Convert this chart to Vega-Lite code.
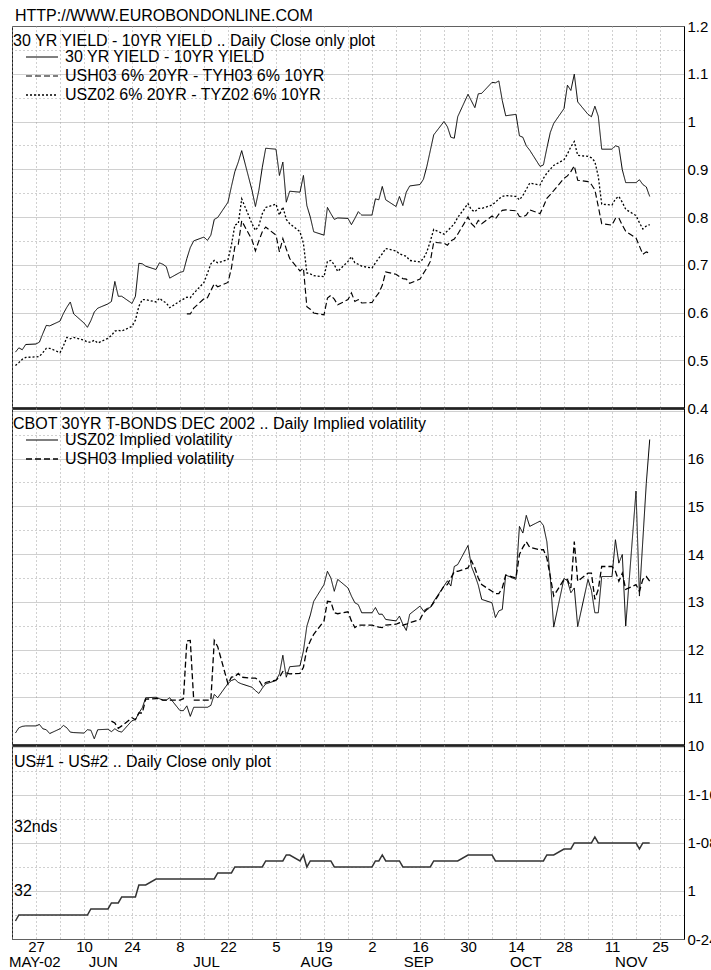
{
  "$schema": "https://vega.github.io/schema/vega-lite/v6.json",
  "padding": {"left": 7, "top": 7, "right": 0, "bottom": 0},
  "title": {"text": "HTTP://WWW.EUROBONDONLINE.COM", "anchor": "start", "frame": "group", "fontSize": 16, "fontWeight": "normal", "font": "Liberation Sans", "color": "black", "offset": -5, "dx": 3},
  "spacing": 0,
  "bounds": "flush",
  "resolve": {"scale": {"strokeDash": "independent", "strokeWidth": "independent"}, "legend": {"strokeDash": "independent", "strokeWidth": "independent"}},
  "config": {
    "font": "Liberation Sans",
    "view": {"stroke": "#222222", "strokeWidth": 1},
    "axis": {"labelFontSize": 15, "labelColor": "black", "labelFont": "Liberation Sans", "ticks": false, "gridColor": "#a0a0a0", "gridWidth": 1, "domainColor": "black", "labelOverlap": false},
    "legend": {"titleFontSize": 16, "titleFontWeight": "normal", "titleColor": "black", "titleFont": "Liberation Sans", "labelFontSize": 16, "labelColor": "black", "labelFont": "Liberation Sans", "symbolSize": 1024, "symbolStrokeWidth": 1.3, "symbolStrokeColor": "black", "symbolType": "stroke", "symbolOffset": 12, "labelOffset": 6, "clipHeight": 16, "rowPadding": 3, "titlePadding": 0, "padding": 0, "titleLimit": 700, "labelLimit": 700},
    "line": {"color": "black"},
    "text": {"font": "Liberation Sans", "fontSize": 16, "color": "black"}
  },
  "datasets": {
    "main": [
      {"d":"2002-05-21","yld":0.517,"usz":0.489,"sz":10.25,"sp":27},
      {"d":"2002-05-22","yld":0.526,"usz":0.495,"sz":10.36,"sp":28},
      {"d":"2002-05-23","yld":0.522,"usz":0.502,"sz":10.39,"sp":28},
      {"d":"2002-05-24","yld":0.533,"usz":0.506,"sz":10.40,"sp":28},
      {"d":"2002-05-27","yld":0.534,"usz":0.507,"sz":10.40,"sp":28},
      {"d":"2002-05-28","yld":0.538,"usz":0.508,"sz":10.43,"sp":28},
      {"d":"2002-05-29","yld":0.556,"usz":0.516,"sz":10.34,"sp":28},
      {"d":"2002-05-30","yld":0.573,"usz":0.525,"sz":10.32,"sp":28},
      {"d":"2002-05-31","yld":0.572,"usz":0.525,"sz":10.24,"sp":28},
      {"d":"2002-06-03","yld":0.582,"usz":0.516,"sz":10.34,"sp":28},
      {"d":"2002-06-04","yld":0.598,"usz":0.530,"sz":10.41,"sp":28},
      {"d":"2002-06-05","yld":0.611,"usz":0.548,"sz":10.36,"sp":28},
      {"d":"2002-06-06","yld":0.622,"usz":0.545,"sz":10.27,"sp":28},
      {"d":"2002-06-07","yld":0.597,"usz":0.548,"sz":10.26,"sp":28},
      {"d":"2002-06-10","yld":0.578,"usz":0.542,"sz":10.25,"sp":28},
      {"d":"2002-06-11","yld":0.569,"usz":0.538,"sz":10.32,"sp":28},
      {"d":"2002-06-12","yld":0.583,"usz":0.538,"sz":10.31,"sp":29},
      {"d":"2002-06-13","yld":0.601,"usz":0.542,"sz":10.13,"sp":29},
      {"d":"2002-06-14","yld":0.609,"usz":0.536,"sz":10.32,"sp":29},
      {"d":"2002-06-17","yld":0.618,"usz":0.546,"sz":10.33,"sp":29},
      {"d":"2002-06-18","yld":0.623,"usz":0.552,"sz":10.28,"sh":10.50,"sp":30},
      {"d":"2002-06-19","yld":0.665,"usz":0.561,"sz":10.34,"sh":10.46,"sp":30},
      {"d":"2002-06-20","yld":0.634,"usz":0.563,"sz":10.29,"sh":10.35,"sp":30},
      {"d":"2002-06-21","yld":0.634,"usz":0.561,"sz":10.27,"sh":10.40,"sp":31},
      {"d":"2002-06-24","yld":0.619,"usz":0.571,"sz":10.51,"sh":10.57,"sp":31},
      {"d":"2002-06-25","yld":0.634,"usz":0.584,"sz":10.53,"sh":10.53,"sp":31},
      {"d":"2002-06-26","yld":0.703,"usz":0.613,"sz":10.67,"sh":10.67,"sp":33},
      {"d":"2002-06-27","yld":0.702,"usz":0.627,"sz":10.78,"sh":10.67,"sp":33},
      {"d":"2002-06-28","yld":0.697,"usz":0.627,"sz":10.99,"sh":10.96,"sp":33},
      {"d":"2002-07-01","yld":0.690,"usz":0.622,"sz":11.00,"sh":10.97,"sp":34},
      {"d":"2002-07-02","yld":0.704,"usz":0.630,"sz":10.97,"sh":10.97,"sp":34},
      {"d":"2002-07-03","yld":0.701,"usz":0.624,"sz":10.94,"sh":10.94,"sp":34},
      {"d":"2002-07-04","yld":0.696,"usz":0.620,"sz":10.94,"sh":10.94,"sp":34},
      {"d":"2002-07-05","yld":0.672,"usz":0.610,"sz":10.99,"sh":10.94,"sp":34},
      {"d":"2002-07-08","yld":0.684,"usz":0.624,"sz":10.72,"sh":10.94,"sp":34},
      {"d":"2002-07-09","yld":0.686,"usz":0.628,"sz":10.72,"sh":10.97,"sp":34},
      {"d":"2002-07-10","yld":0.713,"usz":0.632,"ush":0.597,"sz":10.82,"sh":12.18,"sp":34},
      {"d":"2002-07-11","yld":0.736,"usz":0.631,"ush":0.597,"sz":10.60,"sh":12.19,"sp":34},
      {"d":"2002-07-12","yld":0.750,"usz":0.640,"ush":0.609,"sz":10.79,"sh":10.94,"sp":34},
      {"d":"2002-07-15","yld":0.758,"usz":0.663,"ush":0.629,"sz":10.79,"sh":10.94,"sp":34},
      {"d":"2002-07-16","yld":0.751,"usz":0.682,"ush":0.631,"sz":10.79,"sh":10.94,"sp":34},
      {"d":"2002-07-17","yld":0.762,"usz":0.702,"ush":0.646,"sz":10.83,"sh":10.94,"sp":34},
      {"d":"2002-07-18","yld":0.795,"usz":0.709,"ush":0.660,"sz":11.06,"sh":12.19,"sp":34},
      {"d":"2002-07-19","yld":0.799,"usz":0.704,"ush":0.654,"sz":10.99,"sh":12.06,"sp":35},
      {"d":"2002-07-22","yld":0.831,"usz":0.711,"ush":0.663,"sz":11.29,"sh":11.28,"sp":35},
      {"d":"2002-07-23","yld":0.864,"usz":0.741,"ush":0.693,"sz":11.35,"sh":11.42,"sp":35},
      {"d":"2002-07-24","yld":0.895,"usz":0.783,"ush":0.738,"sz":11.38,"sh":11.43,"sp":36},
      {"d":"2002-07-25","yld":0.915,"usz":0.786,"ush":0.743,"sz":11.31,"sh":11.50,"sp":36},
      {"d":"2002-07-26","yld":0.939,"usz":0.838,"ush":0.792,"sz":11.28,"sh":11.42,"sp":36},
      {"d":"2002-07-29","yld":0.856,"usz":0.786,"ush":0.752,"sz":11.21,"sh":11.40,"sp":36},
      {"d":"2002-07-30","yld":0.822,"usz":0.772,"ush":0.729,"sz":11.14,"sh":11.40,"sp":36},
      {"d":"2002-07-31","yld":0.856,"usz":0.782,"ush":0.750,"sz":11.08,"sh":11.36,"sp":36},
      {"d":"2002-08-01","yld":0.904,"usz":0.807,"ush":0.769,"sz":11.19,"sh":11.24,"sp":36},
      {"d":"2002-08-02","yld":0.944,"usz":0.820,"ush":0.779,"sz":11.28,"sh":11.31,"sp":37},
      {"d":"2002-08-05","yld":0.942,"usz":0.827,"ush":0.762,"sz":11.35,"sh":11.36,"sp":37},
      {"d":"2002-08-06","yld":0.887,"usz":0.804,"ush":0.727,"sz":11.49,"sh":11.42,"sp":37},
      {"d":"2002-08-07","yld":0.915,"usz":0.821,"ush":0.755,"sz":11.88,"sh":11.54,"sp":37},
      {"d":"2002-08-08","yld":0.831,"usz":0.795,"ush":0.733,"sz":11.42,"sh":11.51,"sp":38},
      {"d":"2002-08-09","yld":0.854,"usz":0.786,"ush":0.713,"sz":11.64,"sh":11.49,"sp":38},
      {"d":"2002-08-12","yld":0.852,"usz":0.769,"ush":0.687,"sz":11.66,"sh":11.50,"sp":37},
      {"d":"2002-08-13","yld":0.887,"usz":0.745,"ush":0.693,"sz":11.97,"sh":11.63,"sp":38},
      {"d":"2002-08-14","yld":0.824,"usz":0.683,"ush":0.612,"sz":12.49,"sh":12.01,"sp":36},
      {"d":"2002-08-15","yld":0.800,"usz":0.681,"ush":0.607,"sz":12.72,"sh":12.18,"sp":37},
      {"d":"2002-08-16","yld":0.769,"usz":0.677,"ush":0.599,"sz":13.01,"sh":12.32,"sp":37},
      {"d":"2002-08-19","yld":0.762,"usz":0.675,"ush":0.595,"sz":13.36,"sh":12.60,"sp":37},
      {"d":"2002-08-20","yld":0.820,"usz":0.707,"ush":0.630,"sz":13.64,"sh":13.01,"sp":37},
      {"d":"2002-08-21","yld":0.807,"usz":0.709,"ush":0.636,"sz":13.50,"sh":13.00,"sp":37},
      {"d":"2002-08-22","yld":0.795,"usz":0.700,"ush":0.628,"sz":13.22,"sh":12.77,"sp":36},
      {"d":"2002-08-23","yld":0.798,"usz":0.686,"ush":0.616,"sz":13.47,"sh":12.75,"sp":36},
      {"d":"2002-08-26","yld":0.797,"usz":0.707,"ush":0.627,"sz":13.29,"sh":12.79,"sp":36},
      {"d":"2002-08-27","yld":0.784,"usz":0.717,"ush":0.641,"sz":13.12,"sh":12.60,"sp":36},
      {"d":"2002-08-28","yld":0.797,"usz":0.704,"ush":0.623,"sz":12.98,"sh":12.46,"sp":36},
      {"d":"2002-08-29","yld":0.811,"usz":0.701,"ush":0.627,"sz":12.94,"sh":12.51,"sp":36},
      {"d":"2002-08-30","yld":0.804,"usz":0.697,"ush":0.620,"sz":12.77,"sh":12.51,"sp":36},
      {"d":"2002-09-02","yld":0.804,"usz":0.693,"ush":0.621,"sz":12.77,"sh":12.51,"sp":36},
      {"d":"2002-09-03","yld":0.838,"usz":0.704,"ush":0.632,"sz":12.88,"sh":12.49,"sp":37},
      {"d":"2002-09-04","yld":0.836,"usz":0.714,"ush":0.641,"sz":12.74,"sh":12.47,"sp":37},
      {"d":"2002-09-05","yld":0.864,"usz":0.723,"ush":0.657,"sz":12.74,"sh":12.46,"sp":38},
      {"d":"2002-09-06","yld":0.836,"usz":0.734,"ush":0.685,"sz":12.63,"sh":12.51,"sp":37},
      {"d":"2002-09-09","yld":0.822,"usz":0.729,"ush":0.680,"sz":12.60,"sh":12.53,"sp":37},
      {"d":"2002-09-10","yld":0.843,"usz":0.723,"ush":0.675,"sz":12.70,"sh":12.56,"sp":37},
      {"d":"2002-09-11","yld":0.824,"usz":0.720,"ush":0.671,"sz":12.53,"sh":12.51,"sp":36},
      {"d":"2002-09-12","yld":0.852,"usz":0.718,"ush":0.670,"sz":12.40,"sh":12.53,"sp":36},
      {"d":"2002-09-13","yld":0.865,"usz":0.709,"ush":0.661,"sz":12.74,"sh":12.56,"sp":36},
      {"d":"2002-09-16","yld":0.868,"usz":0.706,"ush":0.670,"sz":12.91,"sh":12.63,"sp":36},
      {"d":"2002-09-17","yld":0.879,"usz":0.713,"ush":0.682,"sz":12.81,"sh":12.77,"sp":36},
      {"d":"2002-09-18","yld":0.906,"usz":0.727,"ush":0.693,"sz":12.86,"sh":12.84,"sp":36},
      {"d":"2002-09-19","yld":0.939,"usz":0.749,"ush":0.707,"sz":12.88,"sh":12.88,"sp":36},
      {"d":"2002-09-20","yld":0.972,"usz":0.774,"ush":0.747,"sz":13.01,"sh":12.98,"sp":37},
      {"d":"2002-09-23","yld":1.000,"usz":0.764,"ush":0.745,"sz":13.33,"sh":13.33,"sp":37},
      {"d":"2002-09-24","yld":0.989,"usz":0.771,"ush":0.741,"sz":13.44,"sh":13.36,"sp":37},
      {"d":"2002-09-25","yld":0.967,"usz":0.778,"ush":0.750,"sz":13.33,"sh":13.50,"sp":37},
      {"d":"2002-09-26","yld":0.965,"usz":0.786,"ush":0.754,"sz":13.74,"sh":13.63,"sp":37},
      {"d":"2002-09-27","yld":1.010,"usz":0.799,"ush":0.764,"sz":13.78,"sh":13.64,"sp":37},
      {"d":"2002-09-30","yld":1.057,"usz":0.828,"ush":0.800,"sz":14.18,"sh":13.71,"sp":38},
      {"d":"2002-10-01","yld":1.043,"usz":0.815,"ush":0.786,"sz":13.74,"sh":13.86,"sp":38},
      {"d":"2002-10-02","yld":1.029,"usz":0.811,"ush":0.779,"sz":13.56,"sh":13.71,"sp":38},
      {"d":"2002-10-03","yld":1.058,"usz":0.818,"ush":0.793,"sz":13.35,"sh":13.50,"sp":38},
      {"d":"2002-10-04","yld":1.059,"usz":0.818,"ush":0.786,"sz":13.05,"sh":13.36,"sp":38},
      {"d":"2002-10-07","yld":1.082,"usz":0.825,"ush":0.802,"sz":12.98,"sh":13.22,"sp":38},
      {"d":"2002-10-08","yld":1.081,"usz":0.831,"ush":0.796,"sz":12.67,"sh":13.17,"sp":37},
      {"d":"2002-10-09","yld":1.085,"usz":0.838,"ush":0.806,"sz":12.81,"sh":13.17,"sp":37},
      {"d":"2002-10-10","yld":1.044,"usz":0.843,"ush":0.814,"sz":12.84,"sh":13.29,"sp":37},
      {"d":"2002-10-11","yld":1.012,"usz":0.845,"ush":0.815,"sz":13.56,"sh":13.56,"sp":37},
      {"d":"2002-10-14","yld":1.015,"usz":0.843,"ush":0.813,"sz":13.47,"sh":13.50,"sp":37},
      {"d":"2002-10-15","yld":0.970,"usz":0.836,"ush":0.801,"sz":14.58,"sh":13.99,"sp":37},
      {"d":"2002-10-16","yld":0.967,"usz":0.845,"ush":0.800,"sz":14.44,"sh":14.14,"sp":37},
      {"d":"2002-10-17","yld":0.949,"usz":0.858,"ush":0.804,"sz":14.81,"sh":14.26,"sp":37},
      {"d":"2002-10-18","yld":0.940,"usz":0.871,"ush":0.815,"sz":14.58,"sh":14.14,"sp":37},
      {"d":"2002-10-21","yld":0.906,"usz":0.867,"ush":0.807,"sz":14.69,"sh":14.09,"sp":37},
      {"d":"2002-10-22","yld":0.909,"usz":0.881,"ush":0.822,"sz":14.60,"sh":14.09,"sp":37},
      {"d":"2002-10-23","yld":0.944,"usz":0.892,"ush":0.839,"sz":14.26,"sh":13.92,"sp":38},
      {"d":"2002-10-24","yld":0.977,"usz":0.900,"ush":0.847,"sz":13.50,"sh":13.53,"sp":38},
      {"d":"2002-10-25","yld":0.996,"usz":0.908,"ush":0.855,"sz":12.47,"sh":13.12,"sp":38},
      {"d":"2002-10-28","yld":1.027,"usz":0.920,"ush":0.881,"sz":13.49,"sh":13.47,"sp":39},
      {"d":"2002-10-29","yld":1.076,"usz":0.932,"ush":0.886,"sz":13.44,"sh":13.47,"sp":39},
      {"d":"2002-10-30","yld":1.065,"usz":0.947,"ush":0.895,"sz":13.19,"sh":13.29,"sp":39},
      {"d":"2002-10-31","yld":1.099,"usz":0.958,"ush":0.907,"sz":13.29,"sh":14.26,"sp":40},
      {"d":"2002-11-01","yld":1.041,"usz":0.929,"ush":0.877,"sz":12.48,"sh":13.43,"sp":40},
      {"d":"2002-11-04","yld":1.015,"usz":0.927,"ush":0.874,"sz":13.47,"sh":13.60,"sp":40},
      {"d":"2002-11-05","yld":1.010,"usz":0.924,"ush":0.868,"sz":13.24,"sh":13.60,"sp":40},
      {"d":"2002-11-06","yld":1.032,"usz":0.916,"ush":0.857,"sz":12.77,"sh":13.05,"sp":41},
      {"d":"2002-11-07","yld":1.011,"usz":0.885,"ush":0.822,"sz":12.77,"sh":13.26,"sp":40},
      {"d":"2002-11-08","yld":0.942,"usz":0.827,"ush":0.786,"sz":13.53,"sh":13.74,"sp":40},
      {"d":"2002-11-11","yld":0.942,"usz":0.825,"ush":0.783,"sz":13.53,"sh":13.74,"sp":40},
      {"d":"2002-11-12","yld":0.949,"usz":0.838,"ush":0.797,"sz":14.30,"sh":13.64,"sp":40},
      {"d":"2002-11-13","yld":0.947,"usz":0.843,"ush":0.798,"sz":13.81,"sh":13.43,"sp":40},
      {"d":"2002-11-14","yld":0.899,"usz":0.831,"ush":0.783,"sz":13.99,"sh":13.60,"sp":40},
      {"d":"2002-11-15","yld":0.872,"usz":0.816,"ush":0.770,"sz":12.49,"sh":13.26,"sp":40},
      {"d":"2002-11-18","yld":0.872,"usz":0.803,"ush":0.756,"sz":15.32,"sh":13.36,"sp":40},
      {"d":"2002-11-19","yld":0.878,"usz":0.788,"ush":0.739,"sz":13.12,"sh":13.22,"sp":39},
      {"d":"2002-11-20","yld":0.868,"usz":0.775,"ush":0.722,"sz":14.30,"sh":13.47,"sp":40},
      {"d":"2002-11-21","yld":0.863,"usz":0.781,"ush":0.727,"sz":15.48,"sh":13.53,"sp":40},
      {"d":"2002-11-22","yld":0.843,"usz":0.784,"ush":0.724,"sz":16.40,"sh":13.43,"sp":40}
    ]
  },
  "data": {"name": "main"},
  "vconcat": [
    {
      "width": 672,
      "height": 382,
      "transform": [{"fold": ["yld", "ush", "usz"], "as": ["s", "v"]}, {"filter": "isValid(datum.v)"}],
      "mark": {"type": "line"},
      "encoding": {
        "x": {"field": "d", "type": "temporal", "title": null,
          "scale": {"type": "utc", "domain": [1021852800000, 1038787200000]},
          "axis": {"values": [1021852800000,1022457600000,1023062400000,1023667200000,1024272000000,1024876800000,1025481600000,1026086400000,1026691200000,1027296000000,1027900800000,1028505600000,1029110400000,1029715200000,1030320000000,1030924800000,1031529600000,1032134400000,1032739200000,1033344000000,1033948800000,1034553600000,1035158400000,1035763200000,1036368000000,1036972800000,1037577600000,1038182400000,1038787200000],
            "labels": false, "domain": true, "domainWidth": 2.5, "grid": true, "gridDash": [1, 3]}},
        "y": {"field": "v", "type": "quantitative", "title": null,
          "scale": {"domain": [0.4, 1.2], "nice": false, "zero": false},
          "axis": {"orient": "right", "values": [0.4,0.45,0.5,0.55,0.6,0.65,0.7,0.75,0.8,0.85,0.9,0.95,1,1.05,1.1,1.15,1.2],
            "labelExpr": "abs(datum.value*10 - round(datum.value*10)) < 0.001 ? format(datum.value, '~g') : ''",
            "labelPadding": 3, "labelAlign": "left", "labelBaseline": "middle", "domainWidth": 1, "grid": true,
            "gridDash": {"condition": {"test": "abs(datum.value*10 - round(datum.value*10)) < 0.001", "value": [1, 1]}, "value": [1, 3]}}},
        "strokeDash": {"field": "s", "type": "nominal",
          "scale": {"domain": ["yld", "ush", "usz"], "range": [[1, 0], [6, 3], [2, 2]]},
          "legend": {"title": "30 YR YIELD - 10YR YIELD .. Daily Close only plot", "orient": "none", "legendX": 1, "legendY": 7,
            "labelExpr": "datum.label == 'yld' ? '30 YR YIELD - 10YR YIELD' : datum.label == 'ush' ? 'USH03 6% 20YR - TYH03 6% 10YR' : 'USZ02 6% 20YR - TYZ02 6% 10YR'"}},
        "strokeWidth": {"field": "s", "type": "nominal", "legend": null,
          "scale": {"domain": ["yld", "ush", "usz"], "range": [1, 1.3, 2.2]}}
      }
    },
    {
      "width": 672,
      "height": 337,
      "transform": [{"fold": ["sz", "sh"], "as": ["s", "v"]}, {"filter": "isValid(datum.v)"}],
      "mark": {"type": "line"},
      "encoding": {
        "x": {"field": "d", "type": "temporal", "title": null,
          "scale": {"type": "utc", "domain": [1021852800000, 1038787200000]},
          "axis": {"values": [1021852800000,1022457600000,1023062400000,1023667200000,1024272000000,1024876800000,1025481600000,1026086400000,1026691200000,1027296000000,1027900800000,1028505600000,1029110400000,1029715200000,1030320000000,1030924800000,1031529600000,1032134400000,1032739200000,1033344000000,1033948800000,1034553600000,1035158400000,1035763200000,1036368000000,1036972800000,1037577600000,1038182400000,1038787200000],
            "labels": false, "domain": true, "domainWidth": 2.5, "grid": true, "gridDash": [1, 3]}},
        "y": {"field": "v", "type": "quantitative", "title": null,
          "scale": {"domain": [10, 17.06], "nice": false, "zero": false},
          "axis": {"orient": "right", "values": [10,10.5,11,11.5,12,12.5,13,13.5,14,14.5,15,15.5,16,16.5,17],
            "labelExpr": "datum.value % 1 == 0 && datum.value < 17 ? format(datum.value, 'd') : ''",
            "labelPadding": 3, "labelAlign": "left", "labelBaseline": "middle", "domainWidth": 1, "grid": true,
            "gridDash": {"condition": {"test": "datum.value % 1 == 0", "value": [1, 1]}, "value": [1, 3]}}},
        "strokeDash": {"field": "s", "type": "nominal",
          "scale": {"domain": ["sz", "sh"], "range": [[1, 0], [6, 3]]},
          "legend": {"title": "CBOT 30YR T-BONDS DEC 2002 .. Daily Implied volatility", "orient": "none", "legendX": 1, "legendY": 8,
            "labelExpr": "datum.label == 'sz' ? 'USZ02 Implied volatility' : 'USH03 Implied volatility'"}},
        "strokeWidth": {"field": "s", "type": "nominal", "legend": null,
          "scale": {"domain": ["sz", "sh"], "range": [1, 1.3]}}
      }
    },
    {
      "width": 672,
      "height": 194,
      "encoding": {
        "y": {"field": "sp", "type": "quantitative", "title": null,
          "scale": {"domain": [24, 56.33], "nice": false, "zero": false},
          "axis": {"orient": "right", "values": [24,28,32,36,40,44,48,52,56],
            "labelExpr": "datum.value == 24 ? '0-24' : datum.value == 32 ? '1' : datum.value == 40 ? '1-08' : datum.value == 48 ? '1-16' : ''",
            "labelPadding": 3, "labelAlign": "left", "labelBaseline": "middle", "domainWidth": 1, "grid": true,
            "gridDash": {"condition": {"test": "(datum.value - 24) % 8 == 0", "value": [1, 1]}, "value": [1, 3]}}}
      },
      "layer": [
        {
          "mark": {"type": "line", "color": "#333333", "strokeWidth": 1.5},
          "encoding": {
            "x": {"field": "d", "type": "temporal", "title": null,
              "scale": {"type": "utc", "domain": [1021852800000, 1038787200000]},
              "axis": {"values": [1021852800000,1022457600000,1023062400000,1023667200000,1024272000000,1024876800000,1025481600000,1026086400000,1026691200000,1027296000000,1027900800000,1028505600000,1029110400000,1029715200000,1030320000000,1030924800000,1031529600000,1032134400000,1032739200000,1033344000000,1033948800000,1034553600000,1035158400000,1035763200000,1036368000000,1036972800000,1037577600000,1038182400000,1038787200000],
                "labelExpr": "(round((datum.value - 1022457600000) / 86400000) % 14 == 0) ? utcFormat(datum.value, '%-d') : ''",
                "labelPadding": 0, "labelBaseline": "top", "labelFlush": false, "domain": false, "grid": true, "gridDash": [1, 3]}}
          }
        },
        {
          "data": {"values": [
            {"t": "US#1 - US#2 .. Daily Close only plot", "d": "2002-05-20", "sp": 53.5},
            {"t": "32nds", "d": "2002-05-20", "sp": 42.67},
            {"t": "32", "d": "2002-05-20", "sp": 32}
          ]},
          "mark": {"type": "text", "align": "left", "baseline": "middle", "dx": 2, "fontSize": 16},
          "encoding": {
            "x": {"field": "d", "type": "temporal", "title": null,
              "scale": {"type": "utc", "domain": [1021852800000, 1038787200000]},
              "axis": {"orient": "bottom", "values": [1022414400000, 1024142400000, 1026741600000, 1029517200000, 1032091200000, 1034787600000, 1037448000000],
                "labelExpr": "utcmonth(datum.value) == 4 ? 'MAY-02' : upper(utcFormat(datum.value, '%b'))",
                "labelPadding": 15, "labelBaseline": "top", "labelFlush": false, "domain": false, "grid": false}},
            "text": {"field": "t"}
          }
        }
      ],
      "resolve": {"axis": {"x": "independent"}}
    }
  ]
}
